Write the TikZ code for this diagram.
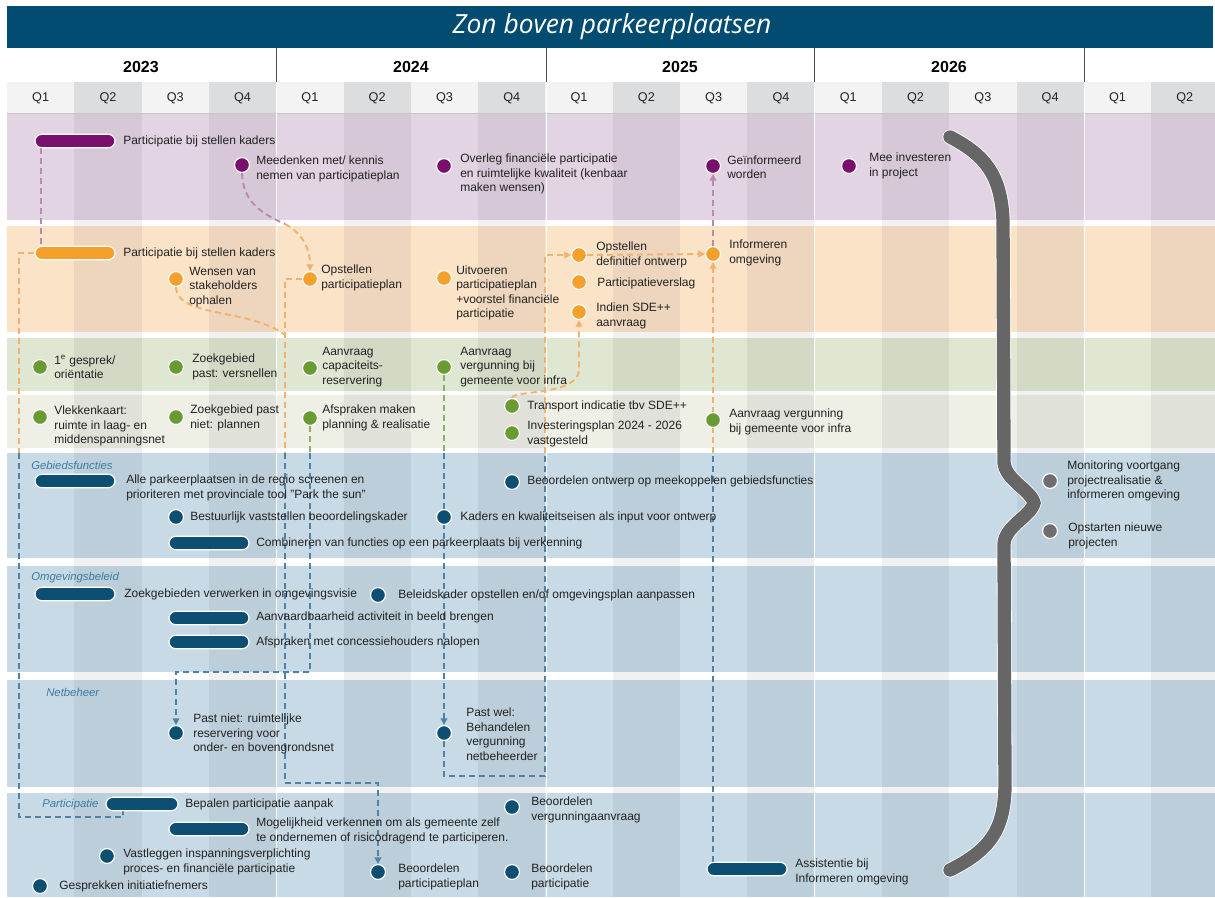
\documentclass[tikz,border=0pt]{standalone}
\usepackage{fontspec}
\setmainfont{Liberation Sans}
\newfontfamily\titlefont{Open Sans}
\usetikzlibrary{arrows.meta}

\definecolor{titleblue}{HTML}{024B71}
\definecolor{headlight}{HTML}{F3F3F3}
\definecolor{headgrey}{HTML}{DCDDDF}
\definecolor{purpleband}{HTML}{E3D4E4}
\definecolor{orangeband}{HTML}{FBE3C8}
\definecolor{greenband}{HTML}{DFE7D2}
\definecolor{paleband}{HTML}{EEF0E6}
\definecolor{blueband}{HTML}{C7DAE6}
\definecolor{purpledot}{HTML}{7A0F6E}
\definecolor{orangedot}{HTML}{F5A02A}
\definecolor{greendot}{HTML}{6A9B33}
\definecolor{bluedot}{HTML}{0C4F73}
\definecolor{greydot}{HTML}{6E6E6E}
\definecolor{bracegrey}{HTML}{666666}
\definecolor{purpledash}{HTML}{B88AB2}
\definecolor{orangedash}{HTML}{F0B26C}
\definecolor{greendash}{HTML}{8CAE6A}
\definecolor{bluedash}{HTML}{4F82A5}
\definecolor{labelblue}{HTML}{3B7BA3}
\definecolor{textgrey}{HTML}{222222}

\pgfdeclarelayer{bg}
\pgfdeclarelayer{conn}
\pgfsetlayers{bg,conn,main}

\tikzset{
  dot/.style={circle, fill=#1, draw=white, line width=0.9pt, minimum size=11.2pt, inner sep=0pt},
  bar/.style={rectangle, rounded corners=5pt, fill=#1, draw=white, line width=0.9pt, minimum width=60pt, minimum height=10pt, inner sep=0pt},
  lbl/.style={anchor=west, inner sep=0pt, align=left, text=textgrey, font=\fontsize{9}{10.9}\selectfont},
  band/.style={anchor=west, inner sep=0pt, text=labelblue, font=\fontsize{8.5}{10}\selectfont\itshape},
  link/.style={dash pattern=on 4.5pt off 3pt, line width=1.4pt, #1},
  arr/.style={-{Triangle[length=5pt,width=5pt]}},
}

\begin{document}
\begin{tikzpicture}[x=0.75pt, y=-0.75pt]
    \useasboundingbox (0,0) rectangle (1215,897);

    \begin{pgfonlayer}{bg}
    \fill[white] (0,0) rectangle (1215,897);
    \fill[titleblue] (7,6) rectangle (1213,48);
    \fill[headlight] (7,82) rectangle (1215,113);
    \fill[purpleband] (7,113) rectangle (1215,220);
    \fill[orangeband] (7,226) rectangle (1215,332);
    \fill[greenband] (7,338) rectangle (1215,391);
    \fill[paleband] (7,395) rectangle (1215,448);
    \fill[blueband] (7,453) rectangle (1215,558);
    \fill[blueband] (7,566) rectangle (1215,672);
    \fill[blueband] (7,680) rectangle (1215,787);
    \fill[blueband] (7,793) rectangle (1215,897);
    \foreach \i in {1,3,...,17} {
        \fill[headgrey] ({7+67.3*\i},82) rectangle ({7+67.3*(\i+1)},113);
        \fill[black, opacity=0.055] ({7+67.3*\i},113) rectangle ({7+67.3*(\i+1)},897);
    }
    \draw[black!22, line width=1pt] (7,113.5) -- (1215,113.5);
    \foreach \x in {276,546,814,1084} {
        \draw[black!70, line width=0.6pt] (\x,48) -- (\x,82);
        \draw[white, line width=0.7pt] (\x,82) -- (\x,897);
    }
    \end{pgfonlayer}

    \node[font=\titlefont\fontsize{19.8}{22}\selectfont\itshape, text=white] (title) at (612,27) {Zon boven parkeerplaatsen};
    \node[font=\fontsize{12}{14}\selectfont\bfseries] (y2023) at (141,67) {2023};
    \node[font=\fontsize{12}{14}\selectfont\bfseries] (y2024) at (411,67) {2024};
    \node[font=\fontsize{12}{14}\selectfont\bfseries] (y2025) at (680,67) {2025};
    \node[font=\fontsize{12}{14}\selectfont\bfseries] (y2026) at (949,67) {2026};
    \foreach \i in {0,...,17} {
        \pgfmathtruncatemacro\qn{mod(\i,4)+1}
        \node[font=\fontsize{9.5}{11}\selectfont, text=textgrey] (q\i) at ({7+67.3*(\i+0.5)},98) {Q\qn};
    }

    \node[bar=purpledot] (pbar) at (75,141) {};
    \node[lbl] (pbar-t) at (123,141) {Participatie bij stellen kaders};
    \node[dot=purpledot] (pmee) at (242,165) {};
    \node[lbl] (pmee-t) at (256,169) {Meedenken met/ kennis\\nemen van participatieplan};
    \node[dot=purpledot] (pover) at (444,166) {};
    \node[lbl] (pover-t) at (460,174) {Overleg financiële participatie\\en ruimtelijke kwaliteit (kenbaar\\maken wensen)};
    \node[dot=purpledot] (pgei) at (713,166) {};
    \node[lbl] (pgei-t) at (727,167) {Geïnformeerd\\worden};
    \node[dot=purpledot] (pinv) at (849,166) {};
    \node[lbl] (pinv-t) at (869,166) {Mee investeren\\in project};

    \node[bar=orangedot] (obar) at (75,253) {};
    \node[lbl] (obar-t) at (123,253) {Participatie bij stellen kaders};
    \node[dot=orangedot] (owens) at (176,279) {};
    \node[lbl] (owens-t) at (189,287) {Wensen van\\stakeholders\\ophalen};
    \node[dot=orangedot] (oopst) at (310,279) {};
    \node[lbl] (oopst-t) at (321,278) {Opstellen\\participatieplan};
    \node[dot=orangedot] (ouitv) at (444,278) {};
    \node[lbl] (ouitv-t) at (456,293) {Uitvoeren\\participatieplan\\+voorstel financiële\\participatie};
    \node[dot=orangedot] (odef) at (579,255) {};
    \node[lbl] (odef-t) at (596,255) {Opstellen\\definitief ontwerp};
    \node[dot=orangedot] (over) at (579,282) {};
    \node[lbl] (over-t) at (597,283) {Participatieverslag};
    \node[dot=orangedot] (osde) at (579,312) {};
    \node[lbl] (osde-t) at (596,316) {Indien SDE++\\aanvraag};
    \node[dot=orangedot] (oinf) at (713,254) {};
    \node[lbl] (oinf-t) at (729,253) {Informeren\\omgeving};

    \node[dot=greendot] (ggesp) at (40,367) {};
    \node[lbl] (ggesp-t) at (54,367) {1\textsuperscript{e} gesprek/\\oriëntatie};
    \node[dot=greendot] (gsnel) at (176,367) {};
    \node[lbl] (gsnel-t) at (192,367) {Zoekgebied\\past: versnellen};
    \node[dot=greendot] (gcap) at (310,368) {};
    \node[lbl] (gcap-t) at (322,367) {Aanvraag\\capaciteits-\\reservering};
    \node[dot=greendot] (gverg) at (444,367) {};
    \node[lbl] (gverg-t) at (460,367) {Aanvraag\\vergunning bij\\gemeente voor infra};

    \node[dot=greendot] (gvlek) at (40,417) {};
    \node[lbl] (gvlek-t) at (54,426) {Vlekkenkaart:\\ruimte in laag- en\\middenspanningsnet};
    \node[dot=greendot] (gplan) at (176,417) {};
    \node[lbl] (gplan-t) at (190,418) {Zoekgebied past\\niet: plannen};
    \node[dot=greendot] (gafsp) at (310,418) {};
    \node[lbl] (gafsp-t) at (322,418) {Afspraken maken\\planning \& realisatie};
    \node[dot=greendot] (gtrans) at (512,406) {};
    \node[lbl] (gtrans-t) at (527,406) {Transport indicatie tbv SDE++};
    \node[dot=greendot] (ginv) at (512,433) {};
    \node[lbl] (ginv-t) at (527,434) {Investeringsplan 2024 - 2026\\vastgesteld};
    \node[dot=greendot] (gaanv) at (713,420) {};
    \node[lbl] (gaanv-t) at (729,422) {Aanvraag vergunning\\bij gemeente voor infra};

    \node[band] (lgeb) at (31,465) {Gebiedsfuncties};
    \node[bar=bluedot] (bscr) at (75,481) {};
    \node[lbl] (bscr-t) at (126,488) {Alle parkeerplaatsen in de regio screenen en\\prioriteren met provinciale tool "Park the sun"};
    \node[dot=bluedot] (bbest) at (176,517) {};
    \node[lbl] (bbest-t) at (190,517) {Bestuurlijk vaststellen beoordelingskader};
    \node[bar=bluedot] (bcomb) at (209,543) {};
    \node[lbl] (bcomb-t) at (256,543) {Combineren van functies op een parkeerplaats bij verkenning};
    \node[dot=bluedot] (bbeo) at (512,482) {};
    \node[lbl] (bbeo-t) at (527,481) {Beoordelen ontwerp op meekoppelen gebiedsfuncties};
    \node[dot=bluedot] (bkad) at (444,517) {};
    \node[lbl] (bkad-t) at (460,517) {Kaders en kwaliteitseisen als input voor ontwerp};

    \node[band] (lomg) at (31,578) {Omgevingsbeleid};
    \node[bar=bluedot] (bzoek) at (75,594) {};
    \node[lbl] (bzoek-t) at (124,594) {Zoekgebieden verwerken in omgevingsvisie};
    \node[dot=bluedot] (bbel) at (378,595) {};
    \node[lbl] (bbel-t) at (398,595) {Beleidskader opstellen en/of omgevingsplan aanpassen};
    \node[bar=bluedot] (baanv) at (209,618) {};
    \node[lbl] (baanv-t) at (256,617) {Aanvaardbaarheid activiteit in beeld brengen};
    \node[bar=bluedot] (bconc) at (209,642) {};
    \node[lbl] (bconc-t) at (256,642) {Afspraken met concessiehouders nalopen};

    \node[band] (lnet) at (46,692) {Netbeheer};
    \node[dot=bluedot] (nniet) at (176,733) {};
    \node[lbl] (nniet-t) at (193,734) {Past niet: ruimtelijke\\reservering voor\\onder- en bovengrondsnet};
    \node[dot=bluedot] (nwel) at (444,733) {};
    \node[lbl] (nwel-t) at (466,734) {Past wel:\\Behandelen\\vergunning\\netbeheerder};

    \node[band] (lpar) at (42,805) {Participatie};
    \node[bar=bluedot, minimum width=54pt] (papak) at (142,804) {};
    \node[lbl] (papak-t) at (185,804) {Bepalen participatie aanpak};
    \node[bar=bluedot] (pmog) at (209,829) {};
    \node[lbl] (pmog-t) at (256,831) {Mogelijkheid verkennen om als gemeente zelf\\te ondernemen of risicodragend te participeren.};
    \node[dot=bluedot] (pvast) at (107,856) {};
    \node[lbl] (pvast-t) at (123,862) {Vastleggen inspanningsverplichting\\proces- en financiële participatie};
    \node[dot=bluedot] (pgesp) at (40,886) {};
    \node[lbl] (pgesp-t) at (59,886) {Gesprekken initiatiefnemers};
    \node[dot=bluedot] (pplan) at (378,872) {};
    \node[lbl] (pplan-t) at (398,877) {Beoordelen\\participatieplan};
    \node[dot=bluedot] (pverg) at (512,807) {};
    \node[lbl] (pverg-t) at (531,810) {Beoordelen\\vergunningaanvraag};
    \node[dot=bluedot] (ppart) at (512,872) {};
    \node[lbl] (ppart-t) at (531,877) {Beoordelen\\participatie};
    \node[bar=bluedot] (pass) at (747,869) {};
    \node[lbl] (pass-t) at (795,872) {Assistentie bij\\Informeren omgeving};

    \node[dot=greydot] (gmon) at (1050,481) {};
    \node[lbl] (gmon-t) at (1067,481) {Monitoring voortgang\\projectrealisatie \&\\informeren omgeving};
    \node[dot=greydot] (gstart) at (1050,531) {};
    \node[lbl] (gstart-t) at (1068,536) {Opstarten nieuwe\\projecten};

    \draw[white, double=bracegrey, double distance=10pt, line width=0.6pt, line cap=round]
        (950,137) .. controls (985,155) and (1001,175) .. (1003,220) -- (1004,462)
        .. controls (1005,480) and (1031,490) .. (1034,503)
        .. controls (1031,516) and (1005,526) .. (1004,544) -- (1005,787)
        .. controls (1004,830) and (990,850) .. (950,870);

    \begin{pgfonlayer}{conn}
    \draw[link=purpledash] ([xshift=-25.5pt]pbar.south) -- ([xshift=-25.5pt]obar.north);
    \coordinate (bend1) at (285,224);
    \draw[link=purpledash] (pmee.south) .. controls (243,200) and (258,212) .. (bend1);
    \draw[link=orangedash, arr] (bend1) .. controls (302,233) and (310,248) .. (oopst.north);

    \draw[link=orangedash] (obar.west) -- (19,253) -- (19,453);
    \draw[link=bluedash] (19,453) -- (19,817) -- (123,817) -- ([xshift=-14.25pt]papak.south);

    \draw[link=orangedash] (owens.south) .. controls (177,318) and (250,308) .. (285,335);
    \draw[link=orangedash] (oopst.west) -- (285,279) -- (285,453);
    \draw[link=bluedash, arr] (285,453) -- (285,783) -- (378,783) -- (pplan.north);

    \draw[link=greendash] (gafsp.south) -- (310,453);
    \draw[link=bluedash, arr] (310,453) -- (310,672) -- (176,672) -- (nniet.north);

    \draw[link=greendash] (gverg.south) -- (444,453);
    \draw[link=bluedash, arr] (444,453) -- (nwel.north);
    \draw[link=bluedash] (nwel.south) -- (444,776) -- (545,776) -- (545,453);
    \draw[link=orangedash, arr] (545,453) -- (545,255) -- (odef.west);

    \draw[link=orangedash, arr] (gtrans.north) .. controls (512,390) and (578,396) .. (579,370) -- (osde.south);
    \draw[link=orangedash, arr] (odef.east) -- (oinf.west);

    \draw[link=bluedash] ([xshift=-25.5pt]pass.north) -- (713,453);
    \draw[link=orangedash, arr] (713,453) -- (oinf.south);
    \draw[link=purpledash, arr] (oinf.north) -- (pgei.south);
    \end{pgfonlayer}
\end{tikzpicture}
\end{document}
